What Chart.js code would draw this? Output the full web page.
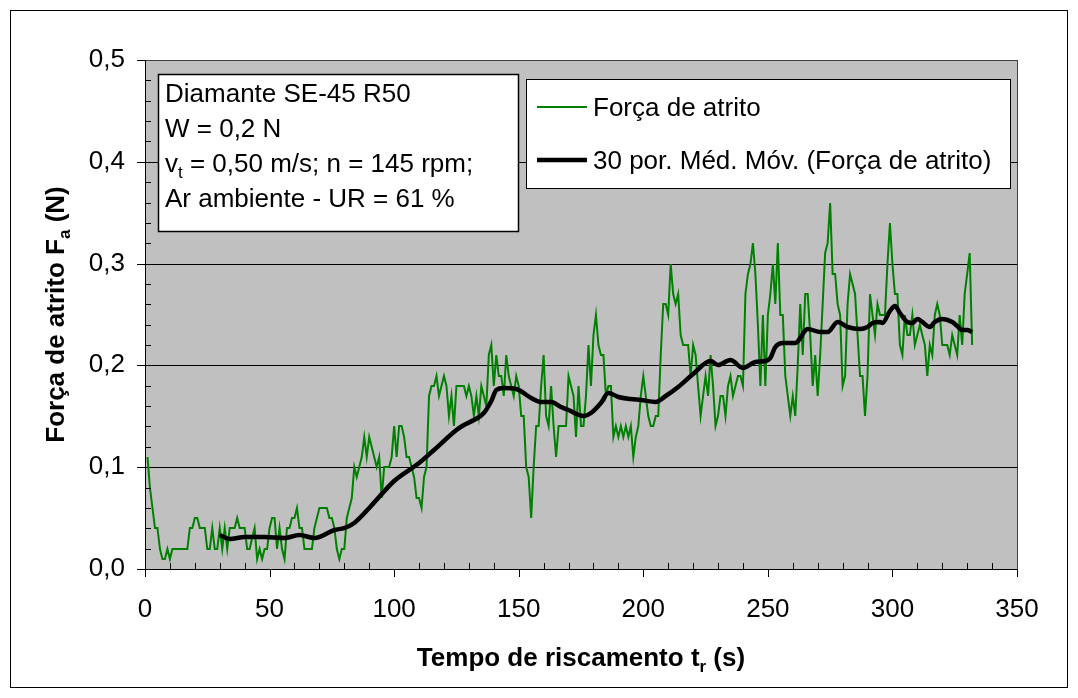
<!DOCTYPE html>
<html>
<head>
<meta charset="utf-8">
<script src="https://cdn.jsdelivr.net/npm/chart.js@4.4.0/dist/chart.umd.min.js"></script>
<style>
  html, body { margin: 0; padding: 0; background: #fff; }
  #wrap { width: 1078px; height: 698px; }
</style>
</head>
<body>
<div id="wrap"><canvas id="forceChart" width="1078" height="698"></canvas></div>
<script>
// Força de atrito (N), one reading per second, t = 1 ... 332 s
const forceValues = [
  0.11, 0.08, 0.06, 0.04, 0.04, 0.02, 0.01, 0.01, 0.02, 0.01,
  0.02, 0.02, 0.02, 0.02, 0.02, 0.02, 0.02, 0.04, 0.04, 0.05,
  0.05, 0.04, 0.04, 0.04, 0.02, 0.02, 0.04, 0.02, 0.02, 0.04,
  0.02, 0.04, 0.02, 0.04, 0.04, 0.04, 0.05, 0.04, 0.04, 0.04,
  0.02, 0.02, 0.03, 0.04, 0.01, 0.02, 0.01, 0.02, 0.02, 0.04,
  0.05, 0.05, 0.02, 0.04, 0.02, 0.01, 0.04, 0.04, 0.05, 0.05,
  0.06, 0.04, 0.04, 0.02, 0.02, 0.02, 0.02, 0.04, 0.05, 0.06,
  0.06, 0.06, 0.06, 0.05, 0.05, 0.04, 0.02, 0.01, 0.02, 0.02,
  0.05, 0.06, 0.07, 0.10, 0.09, 0.10, 0.11, 0.13, 0.11, 0.13,
  0.12, 0.11, 0.10, 0.11, 0.07, 0.10, 0.10, 0.10, 0.11, 0.14,
  0.11, 0.14, 0.14, 0.13, 0.11, 0.11, 0.10, 0.09, 0.07, 0.07,
  0.06, 0.09, 0.10, 0.17, 0.18, 0.18, 0.19, 0.17, 0.18, 0.19,
  0.18, 0.15, 0.17, 0.14, 0.18, 0.18, 0.18, 0.18, 0.17, 0.18,
  0.17, 0.15, 0.17, 0.15, 0.18, 0.17, 0.16, 0.21, 0.22, 0.18,
  0.21, 0.19, 0.19, 0.17, 0.21, 0.19, 0.18, 0.17, 0.19, 0.18,
  0.15, 0.15, 0.10, 0.09, 0.05, 0.10, 0.14, 0.14, 0.18, 0.21,
  0.15, 0.14, 0.18, 0.14, 0.11, 0.14, 0.14, 0.14, 0.14, 0.19,
  0.18, 0.17, 0.13, 0.18, 0.14, 0.14, 0.17, 0.22, 0.18, 0.23,
  0.25, 0.22, 0.21, 0.21, 0.17, 0.18, 0.18, 0.13, 0.14, 0.13,
  0.14, 0.13, 0.14, 0.13, 0.14, 0.11, 0.13, 0.14, 0.17, 0.19,
  0.17, 0.15, 0.14, 0.14, 0.15, 0.15, 0.21, 0.26, 0.26, 0.25,
  0.30, 0.27, 0.26, 0.27, 0.23, 0.22, 0.22, 0.22, 0.19, 0.22,
  0.21, 0.18, 0.15, 0.17, 0.19, 0.17, 0.21, 0.18, 0.14, 0.15,
  0.17, 0.17, 0.15, 0.18, 0.19, 0.17, 0.18, 0.19, 0.19, 0.18,
  0.27, 0.29, 0.30, 0.32, 0.29, 0.24, 0.18, 0.25, 0.18, 0.25,
  0.27, 0.30, 0.26, 0.32, 0.25, 0.25, 0.19, 0.17, 0.15, 0.17,
  0.15, 0.20, 0.26, 0.21, 0.27, 0.27, 0.23, 0.18, 0.21, 0.17,
  0.21, 0.26, 0.31, 0.32, 0.36, 0.29, 0.29, 0.26, 0.25, 0.18,
  0.19, 0.26, 0.29, 0.28, 0.27, 0.23, 0.19, 0.19, 0.15, 0.19,
  0.27, 0.25, 0.23, 0.26, 0.25, 0.25, 0.25, 0.30, 0.34, 0.30,
  0.27, 0.27, 0.22, 0.21, 0.25, 0.23, 0.23, 0.25, 0.22, 0.23,
  0.24, 0.23, 0.22, 0.19, 0.22, 0.21, 0.25, 0.26, 0.25, 0.22,
  0.22, 0.22, 0.21, 0.23, 0.22, 0.21, 0.25, 0.22, 0.27, 0.29,
  0.31, 0.22
];

// 30 por. Méd. Móv.
const maTimes = [
  30, 34, 40, 48, 56, 62, 68, 76, 80, 84,
  90, 100, 110, 116, 125, 128, 132, 136, 139, 141,
  144, 149, 155, 159, 163, 167, 170, 176, 179, 183,
  186, 190, 195, 199, 205, 209, 214, 220, 227, 230,
  235, 240, 245, 249, 251, 253, 256, 261, 266, 271,
  274, 278, 282, 287, 290, 292, 295, 296, 299, 301,
  303, 306, 308, 310, 312, 315, 317, 320, 324, 326,
  328, 330, 332
];
const maValues = [
  0.033, 0.029, 0.031, 0.031, 0.030, 0.033, 0.030, 0.038, 0.040, 0.045,
  0.060, 0.086, 0.104, 0.117, 0.137, 0.141, 0.146, 0.153, 0.165, 0.176,
  0.178, 0.177, 0.168, 0.164, 0.164, 0.159, 0.156, 0.150, 0.153, 0.163,
  0.173, 0.169, 0.167, 0.166, 0.164, 0.170, 0.179, 0.192, 0.204, 0.200,
  0.205, 0.197, 0.203, 0.204, 0.207, 0.218, 0.222, 0.222, 0.236, 0.233,
  0.233, 0.243, 0.238, 0.236, 0.238, 0.242, 0.243, 0.242, 0.253, 0.258,
  0.251, 0.243, 0.242, 0.246, 0.243, 0.238, 0.243, 0.246, 0.243, 0.239,
  0.235, 0.235, 0.233
];

const seriesNames = ['Força de atrito', '30 por. Méd. Móv. (Força de atrito)'];
const infoLines = [
  [['Diamante SE-45 R50', false]],
  [['W = 0,2 N', false]],
  [['v', false], ['t', true], [' = 0,50 m/s; n = 145 rpm;', false]],
  [['Ar ambiente - UR = 61 %', false]]
];
const yTitle = [['Força de atrito F', false], ['a', true], [' (N)', false]];
const xTitle = [['Tempo de riscamento t', false], ['r', true], [' (s)', false]];

const FONT = '"Liberation Sans", Arial, sans-serif';
const FS = 26;

function fontOf(size, bold) {
  return (bold ? 'bold ' : '') + size + 'px ' + FONT;
}

// draw text with subscripts, parts = [[text, isSub], ...]
function drawRich(ctx, parts, x, y, size, bold, align) {
  let total = 0;
  parts.forEach(p => {
    ctx.font = fontOf(p[1] ? Math.round(size * 0.65) : size, bold);
    total += ctx.measureText(p[0]).width;
  });
  let cx = align === 'center' ? x - total / 2 : x;
  ctx.textAlign = 'left';
  ctx.textBaseline = 'alphabetic';
  parts.forEach(p => {
    ctx.font = fontOf(p[1] ? Math.round(size * 0.65) : size, bold);
    ctx.fillText(p[0], cx, p[1] ? y + size * 0.24 : y);
    cx += ctx.measureText(p[0]).width;
  });
}

const decorPlugin = {
  id: 'decor',
  beforeDraw(chart) {
    const { ctx, chartArea: a } = chart;
    ctx.save();
    ctx.fillStyle = '#fff';
    ctx.fillRect(0, 0, chart.width, chart.height);
    ctx.fillStyle = '#C0C0C0';
    ctx.fillRect(a.left, a.top, a.right - a.left, a.bottom - a.top);
    ctx.restore();
  },
  afterDraw(chart) {
    const { ctx, chartArea: a } = chart;
    const xs = chart.scales.x, ys = chart.scales.y;
    ctx.save();

    // plot border
    ctx.strokeStyle = '#404040';
    ctx.lineWidth = 1;
    ctx.strokeRect(a.left + 0.5, a.top + 0.5, a.right - a.left, a.bottom - a.top);

    // axes and ticks
    ctx.strokeStyle = '#000';
    ctx.beginPath();
    ctx.moveTo(a.left + 0.5, a.top);
    ctx.lineTo(a.left + 0.5, a.bottom + 0.5);
    ctx.lineTo(a.right, a.bottom + 0.5);
    for (let t = 0; t <= 350; t += 10) {
      const px = Math.round(xs.getPixelForValue(t)) + 0.5;
      if (t % 50 === 0) {
        ctx.moveTo(px, a.bottom);
        ctx.lineTo(px, a.bottom + 8);
      } else {
        ctx.moveTo(px, a.bottom);
        ctx.lineTo(px, a.bottom - 6);
      }
    }
    for (let k = 0; k <= 25; k++) {
      const py = Math.round(ys.getPixelForValue(k * 0.02)) + 0.5;
      if (k % 5 === 0) {
        ctx.moveTo(a.left - 8, py);
        ctx.lineTo(a.left, py);
      } else {
        ctx.moveTo(a.left, py);
        ctx.lineTo(a.left + 6, py);
      }
    }
    ctx.stroke();

    // outer frame
    ctx.strokeRect(10.5, 10.5, 1057, 677);

    // axis titles
    ctx.fillStyle = '#000';
    drawRich(ctx, xTitle, (a.left + a.right) / 2, 666, FS, true, 'center');
    ctx.save();
    ctx.translate(64, (a.top + a.bottom) / 2);
    ctx.rotate(-Math.PI / 2);
    drawRich(ctx, yTitle, 0, 0, FS, true, 'center');
    ctx.restore();

    // info box
    ctx.fillStyle = '#fff';
    ctx.fillRect(158.5, 74.5, 360, 157);
    ctx.lineWidth = 1.5;
    ctx.strokeRect(158.5, 74.5, 360, 157);
    ctx.fillStyle = '#000';
    infoLines.forEach((line, i) => {
      drawRich(ctx, line, 165, 101.5 + i * 35, FS, false, 'left');
    });

    // legend box
    ctx.fillStyle = '#fff';
    ctx.fillRect(526.5, 79.5, 484, 109);
    ctx.lineWidth = 1;
    ctx.strokeStyle = '#000';
    ctx.strokeRect(526.5, 79.5, 484, 109);
    const legendY = [107, 160];
    chart.data.datasets.forEach((ds, i) => {
      ctx.strokeStyle = ds.borderColor;
      ctx.lineWidth = ds.borderWidth;
      ctx.beginPath();
      ctx.moveTo(537, legendY[i]);
      ctx.lineTo(587, legendY[i]);
      ctx.stroke();
      ctx.fillStyle = '#000';
      drawRich(ctx, [[seriesNames[i], false]], 593, legendY[i] + 9, FS, false, 'left');
    });

    ctx.restore();
  }
};

const ctx = document.getElementById('forceChart').getContext('2d');
new Chart(ctx, {
  type: 'line',
  data: {
    datasets: [
      {
        label: seriesNames[0],
        data: forceValues.map((v, i) => ({ x: i + 1, y: v })),
        borderColor: '#008000',
        borderWidth: 2,
        pointRadius: 0,
        tension: 0,
        order: 2
      },
      {
        label: seriesNames[1],
        data: maTimes.map((t, i) => ({ x: t, y: maValues[i] })),
        borderColor: '#000000',
        borderWidth: 4.5,
        pointRadius: 0,
        cubicInterpolationMode: 'monotone',
        order: 1
      }
    ]
  },
  options: {
    responsive: false,
    animation: false,
    devicePixelRatio: 1,
    layout: { padding: { left: 0, top: 60, right: 61, bottom: 0 } },
    plugins: {
      legend: { display: false },
      tooltip: { enabled: false }
    },
    scales: {
      x: {
        type: 'linear',
        min: 0,
        max: 350,
        grid: { display: false, drawTicks: false },
        border: { display: false },
        ticks: {
          stepSize: 50,
          padding: 25,
          color: '#000',
          font: { family: FONT, size: FS },
          maxRotation: 0
        },
        afterFit(scale) { scale.height = 129; }
      },
      y: {
        min: 0,
        max: 0.5,
        alignToPixels: true,
        grid: { color: '#000', lineWidth: 1, drawTicks: false },
        border: { display: false },
        ticks: {
          stepSize: 0.1,
          padding: 20,
          color: '#000',
          font: { family: FONT, size: FS },
          callback: v => v.toFixed(1).replace('.', ',')
        },
        afterFit(scale) { scale.width = 145; }
      }
    }
  },
  plugins: [decorPlugin]
});
</script>
</body>
</html>
